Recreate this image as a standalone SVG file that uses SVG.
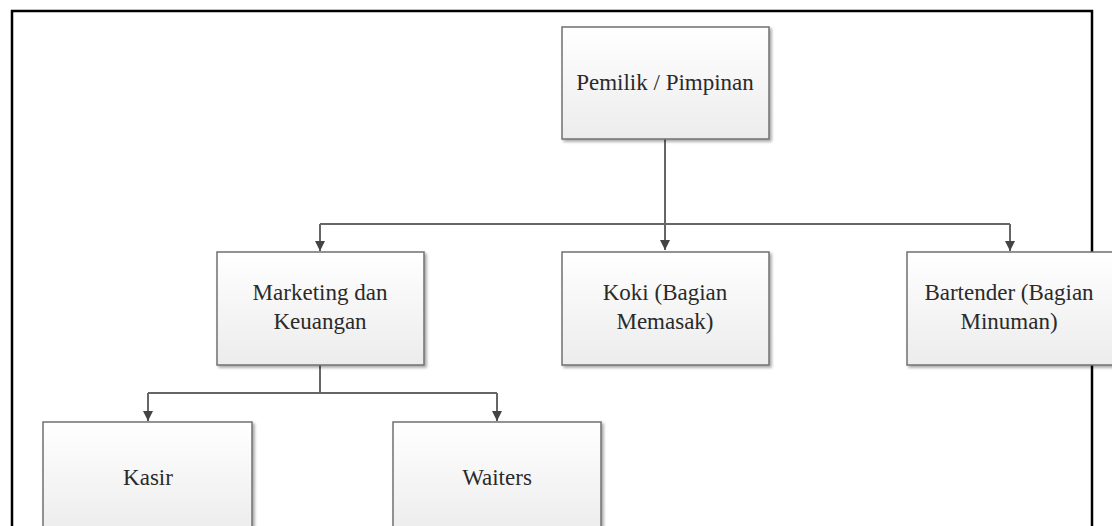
<svg xmlns="http://www.w3.org/2000/svg" width="1112" height="526" viewBox="0 0 1112 526">
<defs>
<linearGradient id="g" x1="0" y1="0" x2="0" y2="1">
<stop offset="0" stop-color="#ffffff"/>
<stop offset="1" stop-color="#ececec"/>
</linearGradient>
<filter id="sh" x="-5%" y="-5%" width="115%" height="120%">
<feGaussianBlur in="SourceAlpha" stdDeviation="1.5"/>
<feOffset dx="2" dy="2" result="b"/>
<feComponentTransfer><feFuncA type="linear" slope="0.35"/></feComponentTransfer>
<feMerge><feMergeNode/><feMergeNode in="SourceGraphic"/></feMerge>
</filter>
<marker id="ah" viewBox="0 0 10 10" refX="10" refY="5" markerWidth="10" markerHeight="10" markerUnits="userSpaceOnUse" orient="auto">
<path d="M0,0 L10,5 L0,10 Z" fill="#444"/>
</marker>
</defs>
<style>
.box{fill:url(#g);stroke:#707070;stroke-width:1.5;filter:url(#sh)}
.t{font-family:"Liberation Serif","Times New Roman",serif;font-size:23px;fill:#2a2a2a;text-anchor:middle}
.c{fill:none;stroke:#666;stroke-width:2}
</style>
<rect width="1112" height="526" fill="#fff"/>
<rect x="12" y="11" width="1080" height="540" fill="none" stroke="#000" stroke-width="2.5"/>
<g id="connectors">
<path class="c" d="M665,139 V250" marker-end="url(#ah)"/>
<path class="c" d="M320,224 H1010"/>
<path class="c" d="M320,224 V251" marker-end="url(#ah)"/>
<path class="c" d="M1010,224 V251" marker-end="url(#ah)"/>
<path class="c" d="M320,365 V393"/>
<path class="c" d="M148,393 H497"/>
<path class="c" d="M148,393 V421" marker-end="url(#ah)"/>
<path class="c" d="M497,393 V421" marker-end="url(#ah)"/>
</g>
<g id="pemilik">
<rect class="box" x="562" y="27" width="207" height="112"/>
<text class="t" x="665" y="90">Pemilik / Pimpinan</text>
</g>
<g id="marketing">
<rect class="box" x="217" y="252" width="207" height="113"/>
<text class="t" x="320" y="300">Marketing dan</text>
<text class="t" x="320" y="329">Keuangan</text>
</g>
<g id="koki">
<rect class="box" x="562" y="252" width="207" height="113"/>
<text class="t" x="665" y="300">Koki (Bagian</text>
<text class="t" x="665" y="329">Memasak)</text>
</g>
<g id="bartender">
<rect class="box" x="907" y="252" width="207" height="113"/>
<text class="t" x="1009" y="300">Bartender (Bagian</text>
<text class="t" x="1009" y="329">Minuman)</text>
</g>
<g id="kasir">
<rect class="box" x="43" y="422" width="209" height="113"/>
<text class="t" x="148" y="485">Kasir</text>
</g>
<g id="waiters">
<rect class="box" x="393" y="422" width="208" height="113"/>
<text class="t" x="497" y="485">Waiters</text>
</g>
</svg>
